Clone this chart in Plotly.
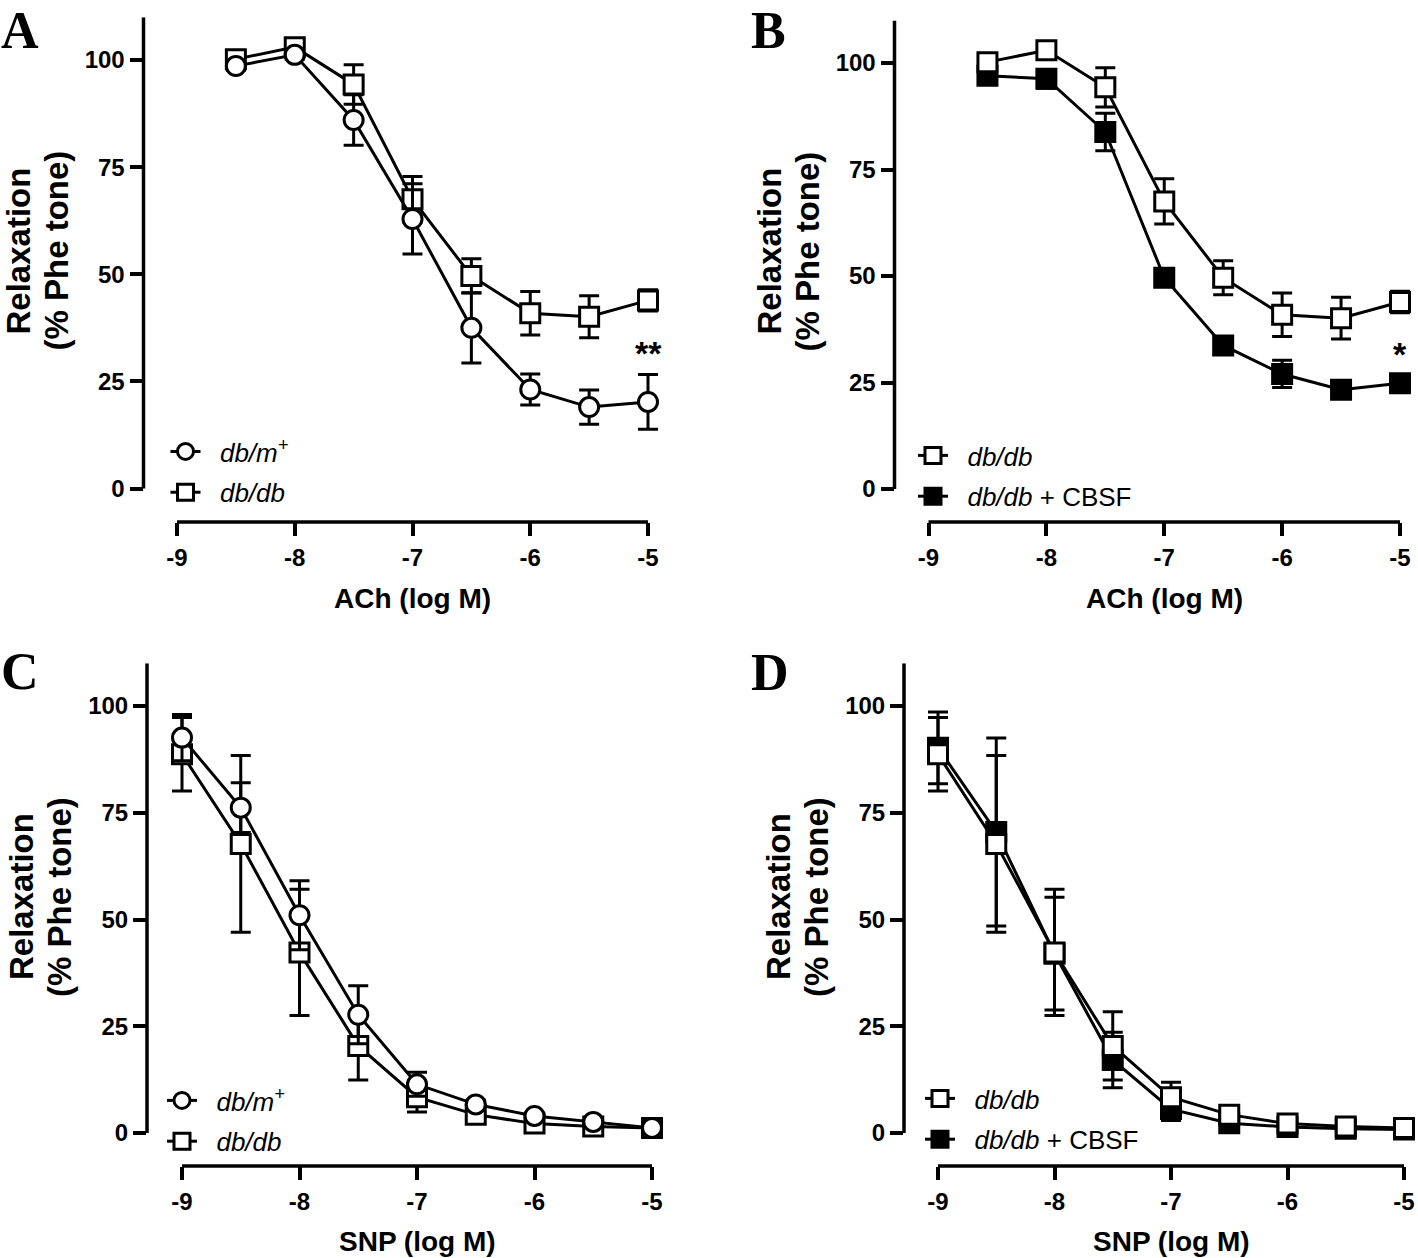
import plotly.graph_objects as go

# ---------------- data ----------------
ach_x = [-8.5, -8.0, -7.5, -7.0, -6.5, -6.0, -5.5, -5.0]
snp_x = [-9.0, -8.5, -8.0, -7.5, -7.0, -6.5, -6.0, -5.5, -5.0]
x_ticks = [-9, -8, -7, -6, -5]
x_ticklabels = ["-9", "-8", "-7", "-6", "-5"]
y_ticks = [0, 25, 50, 75, 100]
y_ticklabels = ["0", "25", "50", "75", "100"]

# ACh: db/m+ (open circles)
ach_dbm = [98.6, 101.2, 86.0, 62.9, 37.5, 23.1, 19.0, 20.2]
ach_dbm_err = [1.0, 1.0, 5.9, 8.2, 8.2, 3.6, 4.0, 6.4]
# ACh: db/db (open squares)
ach_dbdb = [100.2, 103.0, 94.3, 67.5, 49.6, 40.9, 40.1, 43.9]
ach_dbdb_err = [1.0, 1.0, 4.6, 5.3, 4.0, 5.1, 4.9, 2.5]
# ACh: db/db + CBSF (filled squares)
ach_cbsf = [97.0, 96.3, 83.8, 49.6, 33.7, 27.0, 23.3, 24.8]
ach_cbsf_err = [1.0, 2.2, 4.4, 1.0, 1.5, 3.2, 0.8, 1.2]

# SNP: db/m+ (open circles)
snp_dbm = [92.6, 76.2, 51.0, 27.7, 11.4, 6.7, 4.0, 2.6, 1.2]
snp_dbm_err = [5.4, 5.8, 8.1, 6.8, 2.8, 1.0, 0.8, 0.5, 0.4]
# SNP: db/db (open squares)
snp_dbdb = [88.7, 67.7, 42.3, 20.4, 8.4, 4.3, 2.2, 1.5, 1.2]
snp_dbdb_err = [8.6, 20.7, 14.8, 8.0, 3.5, 0.8, 0.6, 0.5, 0.4]
# SNP: db/db + CBSF (filled squares)
snp_cbsf = [90.2, 70.5, 42.0, 17.1, 5.6, 2.3, 1.4, 1.0, 0.8]
snp_cbsf_err = [8.4, 22.0, 13.2, 6.5, 2.7, 0.8, 0.6, 0.4, 0.4]

GAP = "&nbsp;&nbsp;"
name_dbm = GAP + "<i>db/m<sup>+</sup></i>"
name_dbdb = GAP + "<i>db/db</i>"
name_cbsf = GAP + "<i>db/db</i> + CBSF"
xtitle_ach = "ACh (log M)"
xtitle_snp = "SNP (log M)"
ytitle_lines = ["Relaxation", "(% Phe tone)"]
panel_letters = ["A", "B", "C", "D"]
stars = ["**", "*"]

# ---------------- layout geometry (pixels) ----------------
W, H = 1418, 1258
SANS = "Liberation Sans, Arial, sans-serif"
SERIF = "Liberation Serif, Times New Roman, serif"
YTOP = 110

panels = [
    dict(axis=143.5, m9=177, m5=648, right=665, zero=488.5, hundred=60, bottom=522,
         xt_y=598, ltitle_y=251, letter=(0, 0.5), leg=(165.5, 428)),
    dict(axis=894.5, m9=928.5, m5=1400, right=1417, zero=489, hundred=63, bottom=522,
         xt_y=598, ltitle_y=251, letter=(750, 0.5), leg=(913, 432)),
    dict(axis=147, m9=182, m5=652, right=669, zero=1133, hundred=706, bottom=1166,
         xt_y=1241, ltitle_y=897, letter=(0, 642), leg=(162, 1077)),
    dict(axis=904, m9=938, m5=1404, right=1418, zero=1133, hundred=706, bottom=1166,
         xt_y=1241, ltitle_y=897, letter=(750, 643), leg=(920, 1075)),
]

fig = go.Figure()

def axnames(i):
    return ("x" if i == 0 else f"x{i+1}"), ("y" if i == 0 else f"y{i+1}")

def add_series(i, x, y, err, symbol, fill, name, rank):
    xa, ya = axnames(i)
    fig.add_trace(go.Scatter(
        x=x, y=y, mode="lines+markers", name=name, xaxis=xa, yaxis=ya,
        legend=("legend" if i == 0 else f"legend{i+1}"), legendrank=rank,
        legendgroup=f"p{i}_{rank}",
        line=dict(color="black", width=3),
        marker=dict(symbol=symbol, size=19, color=fill, line=dict(color="black", width=3)),
        error_y=dict(type="data", array=err, visible=True, color="black", thickness=3, width=10),
        cliponaxis=False, showlegend=True,
    ))

# Panel A
add_series(0, ach_x, ach_dbdb, ach_dbdb_err, "square", "white", name_dbdb, 2)
add_series(0, ach_x, ach_dbm, ach_dbm_err, "circle", "white", name_dbm, 1)
# Panel B
add_series(1, ach_x, ach_cbsf, ach_cbsf_err, "square", "black", name_cbsf, 2)
add_series(1, ach_x, ach_dbdb, ach_dbdb_err, "square", "white", name_dbdb, 1)
# Panel C
add_series(2, snp_x, snp_dbdb, snp_dbdb_err, "square", "white", name_dbdb, 2)
add_series(2, snp_x, snp_dbm, snp_dbm_err, "circle", "white", name_dbm, 1)
# Panel D
add_series(3, snp_x, snp_cbsf, snp_cbsf_err, "square", "black", name_cbsf, 2)
add_series(3, snp_x, snp_dbdb, snp_dbdb_err, "square", "white", name_dbdb, 1)

layout = dict(
    width=W, height=H, margin=dict(l=0, r=0, t=0, b=0),
    paper_bgcolor="white", plot_bgcolor="rgba(0,0,0,0)",
    font=dict(family=SANS, color="black"),
    shapes=[], annotations=[],
)

tickfont = dict(family=SANS, size=24, color="black", weight="bold")
for i, p in enumerate(panels):
    xa, ya = axnames(i)
    ppx = (p["m5"] - p["m9"]) / 4.0
    xr = [-9 - (p["m9"] - p["axis"]) / ppx, -5 + (p["right"] - p["m5"]) / ppx]
    ppy = (p["zero"] - p["hundred"]) / 100.0
    yr = [-(p["bottom"] - p["zero"]) / ppy, YTOP]
    top_px = p["zero"] - YTOP * ppy
    xkey = "xaxis" if i == 0 else f"xaxis{i+1}"
    ykey = "yaxis" if i == 0 else f"yaxis{i+1}"
    layout[xkey] = dict(
        domain=[p["axis"] / W, min(p["right"] / W, 1.0)], range=xr, anchor=ya,
        showline=False, showgrid=False, zeroline=False,
        tickmode="array", tickvals=x_ticks, ticktext=x_ticklabels,
        ticks="outside", ticklen=13, tickwidth=3.5, tickcolor="black",
        tickfont=tickfont, ticklabelstandoff=1,
    )
    layout[ykey] = dict(
        domain=[(H - p["bottom"]) / H, (H - top_px) / H], range=yr, anchor=xa,
        showline=False, showgrid=False, zeroline=False,
        tickmode="array", tickvals=y_ticks, ticktext=y_ticklabels,
        ticks="outside", ticklen=13, tickwidth=3.5, tickcolor="black",
        tickfont=tickfont, ticklabelstandoff=0,
    )
    # offset axis lines (Prism style)
    layout["shapes"].append(dict(type="line", xref=f"{xa} domain", x0=0, x1=0,
                                 yref=ya, y0=0, y1=YTOP, line=dict(color="black", width=3.5)))
    layout["shapes"].append(dict(type="line", xref=xa, x0=-9, x1=-5,
                                 yref=f"{ya} domain", y0=0, y1=0, line=dict(color="black", width=3.5)))
    # x title
    layout["annotations"].append(dict(
        text=(xtitle_ach if i < 2 else xtitle_snp), xref=xa, x=-7, yref="paper",
        y=1 - p["xt_y"] / H, xanchor="center", yanchor="middle", showarrow=False,
        font=dict(family=SANS, size=28, color="black", weight="bold")))
    # y title (two lines)
    for k, (line_txt, off) in enumerate(zip(ytitle_lines, [126, 88])):
        layout["annotations"].append(dict(
            text=line_txt, xref="paper", x=(p["axis"] - off) / W, yref="paper",
            y=1 - p["ltitle_y"] / H, xanchor="center", yanchor="middle", textangle=-90,
            showarrow=False, font=dict(family=SANS, size=33, color="black", weight="bold")))
    # panel letter
    layout["annotations"].append(dict(
        text=panel_letters[i], xref="paper", x=p["letter"][0] / W, yref="paper",
        y=1 - p["letter"][1] / H, xanchor="left", yanchor="top", showarrow=False,
        borderpad=0, font=dict(family=SERIF, size=52, color="black", weight="bold")))
    # legend
    lkey = "legend" if i == 0 else f"legend{i+1}"
    layout[lkey] = dict(
        x=p["leg"][0] / W, y=1 - p["leg"][1] / H, xref="paper", yref="paper",
        xanchor="left", yanchor="top", bgcolor="rgba(0,0,0,0)", borderwidth=0,
        font=dict(family=SANS, size=26, color="black"), traceorder="grouped",
        tracegroupgap=4,
    )

# significance stars at -5
layout["annotations"].append(dict(text=stars[0], xref="x", x=-5, yref="y", y=31.6,
                                  xanchor="center", yanchor="middle", showarrow=False,
                                  font=dict(family=SANS, size=34, color="black", weight="bold")))
layout["annotations"].append(dict(text=stars[1], xref="x2", x=-5, yref="y2", y=31.6,
                                  xanchor="center", yanchor="middle", showarrow=False,
                                  font=dict(family=SANS, size=34, color="black", weight="bold")))

fig.update_layout(**layout)
fig.write_html("out.html", config={"displayModeBar": False},
               post_script="document.body.style.margin='0px';")
